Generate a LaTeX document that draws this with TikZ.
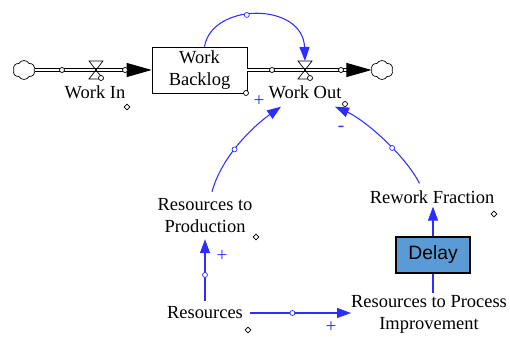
\documentclass[tikz,border=0pt]{standalone}
\usepackage{fontspec}
\setmainfont{Liberation Serif}
\newfontfamily\delayfont{Liberation Sans}
\usetikzlibrary{arrows.meta,shapes.symbols,shapes.geometric}

\definecolor{linkblue}{RGB}{45,45,255}
\definecolor{delayfill}{RGB}{91,155,213}

\tikzset{
	var/.style={align=center, inner sep=1pt, font=\rmfamily\fontsize{10.5}{12.5}\selectfont},
	stock/.style={draw, thin, align=center, minimum width=1.9cm, minimum height=0.92cm, inner sep=1pt, font=\rmfamily\fontsize{10.5}{12.5}\selectfont},
	cloudy/.style={cloud, draw, thin, cloud puffs=6, cloud puff arc=120, cloud ignores aspect, minimum width=0.44cm, minimum height=0.38cm, inner sep=0pt},
	pipe/.style={draw=black, double=white, double distance=1.7pt, line width=0.5pt, -{Triangle[length=0.5cm, width=0.28cm]}},
	link/.style={linkblue, semithick, -{Triangle[length=0.28cm, width=0.2cm]}},
	handle/.style={circle, draw, thin, fill=white, inner sep=0pt, minimum size=0.1cm},
	lhandle/.style={diamond, draw, thin, fill=white, inner sep=0pt, minimum size=0.12cm},
	sign/.style={text=linkblue, inner sep=0pt, font=\rmfamily\fontsize{11}{11}\selectfont},
	delaybox/.style={draw, thick, fill=delayfill, minimum width=1.48cm, minimum height=0.72cm, font=\delayfont\fontsize{11}{13}\selectfont},
	valve/.pic={
		\draw[thin] (-7,-9) -- (7,-9) -- (-7,9) -- (7,9) -- cycle;
		\coordinate (-top) at (0,-9);
		\node[handle] (-h) at (5,8) {};
	}
}

\begin{document}
\begin{tikzpicture}[x=0.02cm, y=-0.02cm]
	\useasboundingbox (0,0) rectangle (510,337);

	% Stock, clouds and flows
	\node[cloudy] (srcL) at (24,70) {};
	\node[cloudy] (snkR) at (382,70) {};
	\node[stock] (wb) at (199.5,70) {Work\\Backlog};
	\draw[pipe] (srcL) -- (wb);
	\draw[pipe] (wb) -- (snkR);
	\pic (win) at (96,70) {valve};
	\pic (wout) at (305,70) {valve};
	\foreach \x/\n in {62/a, 125/b, 272/c, 341/d} {
		\node[handle] (pipe\n) at (\x,70) {};
	}
	\node[handle] (wbh) at (246,93) {};

	% Variables
	\node[var] (winl) at (95,92) {Work In};
	\node[var] (woutl) at (305,92) {Work Out};
	\node[var] (rtp) at (205,216) {Resources to\\Production};
	\node[var] (res) at (205,313) {Resources};
	\node[var] (rf) at (432,197) {Rework Fraction};
	\node[var] (rpi) at (429,314) {Resources to Process\\Improvement};
	\node[delaybox] (dl) at (433,255) {Delay};

	% Label handles
	\node[lhandle] (winlh) at (127,107) {};
	\node[lhandle] (rtph) at (256,237) {};
	\node[lhandle] (resh) at (248,330) {};
	\node[lhandle] (rfh) at (494,214) {};

	% Links
	\draw[link] ([xshift=0.1cm]wb.north) .. controls (212,2) and (303,2) .. node[handle, pos=0.43] (l1h) {} (wout-top);
	\draw[link] ([xshift=0.14cm, yshift=0.1cm]rtp.north) .. controls (222,155) and (255,125) .. node[handle, pos=0.42] (l2h) {} ([xshift=-0.48cm, yshift=-0.12cm]woutl.south);
	\draw[link] ([xshift=-0.25cm, yshift=0.1cm]rf.north) .. controls (405,155) and (365,120) .. node[handle, pos=0.4] (l3h) {} ([xshift=0.6cm, yshift=-0.12cm]woutl.south);
	\node[handle] (woutlh) at (345,104) {};
	\draw[link] ([yshift=0.08cm]res.north) -- node[handle, pos=0.42] (l4h) {} ([yshift=-0.08cm]rtp.south);
	\draw[link] ([xshift=0.1cm]res.east) -- node[handle, pos=0.42] (l5h) {} ([xshift=0.04cm]res.east -| rpi.west);
	\draw[linkblue, semithick] (dl.south |- rpi.north) -- (dl.south);
	\draw[link] (dl.north) -- ([yshift=-0.02cm]dl.north |- rf.south);

	% Polarities
	\node[sign] (s1) at (259,101) {+};
	\node[sign] (s2) at (222,256) {+};
	\node[sign] (s3) at (331,327) {+};
	\node[sign] (s4) at (341,129) {-};
\end{tikzpicture}
\end{document}
